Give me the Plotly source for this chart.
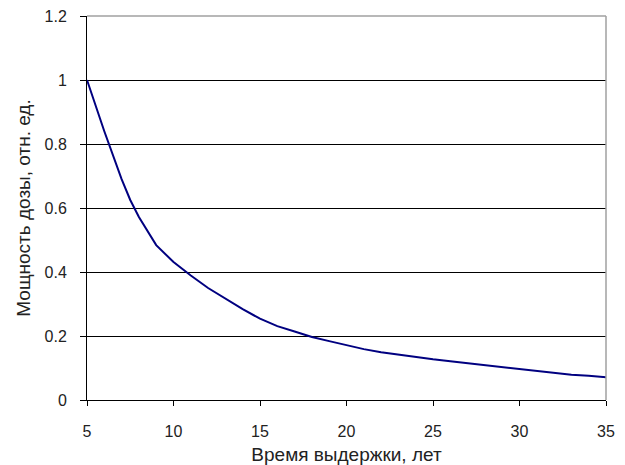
import plotly.graph_objects as go

years = [5, 6, 7, 7.5, 8, 9, 10, 11, 12, 13, 14, 15, 16, 17, 18, 19, 20, 21, 22, 23, 24, 25,
         26, 27, 28, 29, 30, 31, 32, 33, 34, 35]
dose = [1.00, 0.84, 0.69, 0.625, 0.572, 0.484, 0.431, 0.389, 0.350, 0.316, 0.284, 0.254,
        0.231, 0.214, 0.197, 0.184, 0.171, 0.159, 0.149, 0.141, 0.134, 0.127,
        0.121, 0.115, 0.109, 0.103, 0.097, 0.091, 0.085, 0.079, 0.076, 0.071]

x_ticks = [5, 10, 15, 20, 25, 30, 35]
y_ticks = [0, 0.2, 0.4, 0.6, 0.8, 1, 1.2]
y_labels = ["0", "0.2", "0.4", "0.6", "0.8", "1", "1.2"]

fig = go.Figure()
fig.add_trace(go.Scatter(x=years, y=dose, mode="lines",
                         line=dict(color="#000080", width=2), showlegend=False))

font = dict(family="Liberation Sans, Arial, sans-serif", size=16, color="#222222")

fig.update_layout(
    width=617, height=457,
    margin=dict(l=79, r=19, t=8, b=65),
    paper_bgcolor="white", plot_bgcolor="white",
    font=font,
    xaxis=dict(range=[5, 35], tickvals=x_ticks, showgrid=False, zeroline=False,
               showline=True, linecolor="#000000", linewidth=1,
               ticks="outside", ticklen=5, tickcolor="#000000",
               ticklabelstandoff=12, automargin=False, ticklabeloverflow="allow",
               title=dict(text="Время выдержки, лет", standoff=8)),
    yaxis=dict(range=[0, 1.2], tickvals=y_ticks, ticktext=y_labels,
               showgrid=True, gridcolor="#000000", gridwidth=1, zeroline=False,
               showline=True, linecolor="#000000", linewidth=1,
               ticks="outside", ticklen=6, tickcolor="#000000",
               ticklabelstandoff=10, automargin=False, ticklabeloverflow="allow",
               title=dict(text="Мощность дозы, отн. ед.", standoff=8)),
    shapes=[
        dict(type="line", xref="paper", yref="paper", x0=0, x1=1, y0=1, y1=1,
             line=dict(color="#a0a0a0", width=1.5), layer="above"),
        dict(type="line", xref="paper", yref="paper", x0=1, x1=1, y0=0, y1=1,
             line=dict(color="#a0a0a0", width=1.5), layer="above"),
    ],
)

fig.write_html("out.html")
